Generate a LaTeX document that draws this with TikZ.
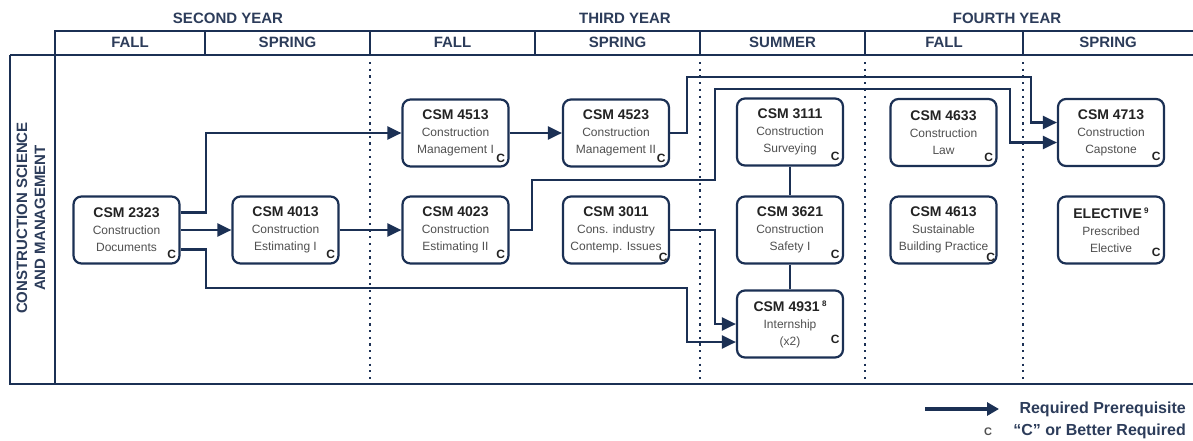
\documentclass[tikz,border=0pt]{standalone}
\usepackage{fontspec}
\setmainfont{Liberation Sans}
\usetikzlibrary{arrows.meta,calc}
\definecolor{navy}{RGB}{27,48,84}
\definecolor{hdr}{RGB}{44,60,90}
\definecolor{ttl}{RGB}{35,35,35}
\definecolor{subc}{RGB}{80,80,80}
\newcommand\crs[7][-9pt]{%
  \node[course] (#2) at #3 {{\bfseries\color{ttl}\fontsize{14}{17}\selectfont #4}\\#5\\#6};
  \node[cmark] at ([xshift=#1,yshift=#7]#2.south east) {C};}
\newcommand\supnum[1]{\,\raisebox{5pt}{\fontsize{8}{8}\selectfont #1}}
\begin{document}
\begin{tikzpicture}[x=1pt,y=-1pt,
  course/.style={draw=navy, line width=2.2pt, rounded corners=8pt, fill=white,
    minimum width=106pt, minimum height=67pt, inner sep=0pt, align=center,
    text=subc, font=\fontsize{12}{17}\selectfont},
  cmark/.style={text=ttl, font=\bfseries\fontsize{12}{12}\selectfont, inner sep=0pt},
  arr/.style={draw=navy, line width=2.2pt, -{Triangle[length=14pt,width=13pt]}},
  link/.style={draw=navy, line width=2.2pt},
  hline/.style={draw=navy, line width=2.8pt},
  dots/.style={draw=navy, line width=2.2pt, dash pattern=on 2.2pt off 4.5pt},
  hdrtext/.style={text=hdr, font=\bfseries\fontsize{15}{18}\selectfont, inner sep=0pt},
]
\useasboundingbox (0,0) rectangle (1193,440);

% header and frame
\draw[hline] (10,55) -- (1193,55);
\draw[hline] (55,384) -- (55,31) -- (1193,31);
\draw[hline] (10,55) -- (10,384) -- (1193,384);
\foreach \x in {205,370,535,700,865,1023} \draw[hline] (\x,31) -- (\x,55);
\foreach \x in {370,700,865,1023} \draw[dots] (\x,62) -- (\x,381);

\node[hdrtext] (y2) at (228,18) {SECOND YEAR};
\node[hdrtext] (y3) at (625,18) {THIRD YEAR};
\node[hdrtext] (y4) at (1007,18) {FOURTH YEAR};
\node[hdrtext] (s1) at (130,42) {FALL};
\node[hdrtext] (s2) at (287.5,42) {SPRING};
\node[hdrtext] (s3) at (452.5,42) {FALL};
\node[hdrtext] (s4) at (617.5,42) {SPRING};
\node[hdrtext] (s5) at (782.5,42) {SUMMER};
\node[hdrtext] (s6) at (944,42) {FALL};
\node[hdrtext] (s7) at (1108,42) {SPRING};
\node[hdrtext, rotate=90, align=center] (rowlbl) at (31,218) {CONSTRUCTION SCIENCE\\AND MANAGEMENT};

% courses
\crs{c2323}{(126.5,230)}{CSM 2323}{Construction}{Documents}{10pt}
\crs{c4013}{(285.5,230)}{CSM 4013}{Construction}{Estimating I}{10pt}
\crs{c4513}{(455.5,133)}{CSM 4513}{Construction}{Management I}{9pt}
\crs{c4023}{(455.5,230)}{CSM 4023}{Construction}{Estimating II}{10pt}
\crs{c4523}{(616,133)}{CSM 4523}{Construction}{Management II}{9pt}
\crs[-7pt]{c3011}{(616,230)}{CSM 3011}{Cons. industry}{Contemp. Issues}{7pt}
\crs{c3111}{(790,132)}{CSM 3111}{Construction}{Surveying}{10pt}
\crs{c3621}{(790,230)}{CSM 3621}{Construction}{Safety I}{10pt}
\crs{c4931}{(790,324)}{CSM 4931\supnum{8}}{Internship}{(x2)}{19pt}
\crs{c4633}{(943.5,132.5)}{CSM 4633}{Construction}{Law}{10pt}
\crs[-7pt]{c4613}{(943.5,230)}{CSM 4613}{Sustainable}{Building Practice}{7pt}
\crs{c4713}{(1111,132.5)}{CSM 4713}{Construction}{Capstone}{11pt}
\crs{celec}{(1111,230)}{ELECTIVE\supnum{9}}{Prescribed}{Elective}{12pt}

% connectors
\draw[arr] (c2323) -- (c4013);
\draw[arr] ([yshift=17.5pt]c2323.east) -- ++(25.5,0) |- (c4513.west);
\draw[arr] ([yshift=-19.5pt]c2323.east) -- ++(25.5,0) |- (687,288) |- ([yshift=-18pt]c4931.west);
\draw[arr] (c4013) -- (c4023);
\draw[arr] (c4513) -- (c4523);
\draw[arr] (c4523.east) -- ++(17,0) |- (1031,77) |- ([yshift=10pt]c4713.west);
\draw[arr] (c4023.east) -- ++(22,0) |- (715,180) |- (1010,89) |- ([yshift=-10pt]c4713.west);
\draw[arr] (c3011.east) -- ++(45,0) |- (c4931.west);
\draw[link] (c3111) -- (c3621);
\draw[link] (c3621) -- (c4931);

% legend
\coordinate (la) at (925,409);
\coordinate (lb) at (999,409);
\draw[draw=navy, line width=3.3pt, -{Triangle[length=12pt,width=13pt]}] (la) -- (lb);
\node[anchor=east, text=hdr, font=\bfseries\fontsize{16}{16}\selectfont, inner sep=0pt] (leg1) at (1186,409) {Required Prerequisite};
\node[anchor=east, text=hdr, font=\bfseries\fontsize{16}{16}\selectfont, inner sep=0pt] (leg2) at (1186,431) {“C” or Better Required};
\node[text=subc, font=\bfseries\fontsize{11}{11}\selectfont, inner sep=0pt] (legc) at (988,432) {C};
\end{tikzpicture}
\end{document}
